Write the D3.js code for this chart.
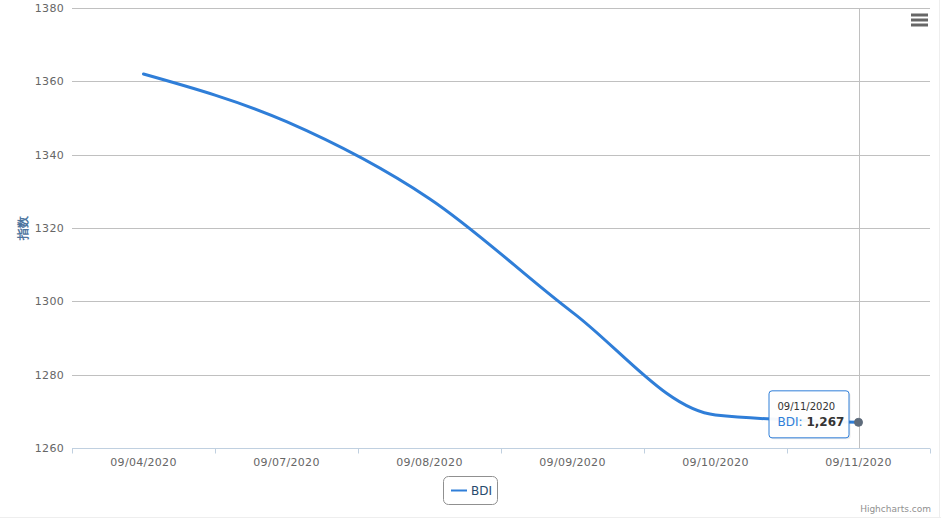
<!DOCTYPE html>
<html>
<head>
<meta charset="utf-8">
<script src="https://cdn.jsdelivr.net/npm/d3@7/dist/d3.min.js"></script>
<style>
html,body{margin:0;padding:0;background:#fff;}
svg{display:block;font-family:"DejaVu Sans",Verdana,Arial,sans-serif;}
</style>
</head>
<body>
<svg id="chart" width="941" height="520"></svg>
<script>
const categories = ["09/04/2020","09/07/2020","09/08/2020","09/09/2020","09/10/2020","09/11/2020"];
const bdiValues = [1362, 1349, 1328, 1297, 1269, 1267];
const yTicks = [1260, 1280, 1300, 1320, 1340, 1360, 1380];
const seriesName = "BDI";
const yTitle = "指数";

const W = 941, H = 520;
const m = {left: 72, right: 11, top: 8, bottom: 72};
const svg = d3.select("#chart");

const x = d3.scaleBand().domain(categories).range([m.left, W - m.right]);
const y = d3.scaleLinear().domain([1260, 1380]).range([H - m.bottom, m.top]);

// faint container edges (right & bottom)
svg.append("line").attr("x1", W-1.5).attr("x2", W-1.5).attr("y1", 0).attr("y2", H-2).attr("stroke","#eeeeee");
svg.append("line").attr("x1", 0).attr("x2", W).attr("y1", H-2.5).attr("y2", H-2.5).attr("stroke","#eeeeee");

// grid
svg.append("g").selectAll("line").data(yTicks.filter(d=>d!==1260)).join("line")
  .attr("x1", m.left).attr("x2", W - m.right)
  .attr("y1", d => Math.round(y(d))+0.5).attr("y2", d => Math.round(y(d))+0.5)
  .attr("stroke", "#c0c0c0").attr("stroke-width", 1);

// y axis labels
const yAxis = d3.axisLeft(y).tickValues(yTicks).tickSize(0).tickPadding(8).tickFormat(d3.format("d"));
const gy = svg.append("g").attr("transform", `translate(${m.left},0)`).call(yAxis);
gy.select(".domain").remove();
gy.selectAll("text").attr("font-size", 11).attr("fill", "#666666").attr("letter-spacing", 0.3)
  .attr("font-family", "DejaVu Sans, Verdana, sans-serif");

// crosshair
svg.append("line").attr("x1", Math.round(x(categories[5]) + x.bandwidth()/2)+0.5)
  .attr("x2", Math.round(x(categories[5]) + x.bandwidth()/2)+0.5)
  .attr("y1", m.top).attr("y2", H - m.bottom)
  .attr("stroke", "#c0c0c0").attr("stroke-width", 1);

// x axis
const xAxis = d3.axisBottom(x).tickSize(0).tickPadding(10);
const gx = svg.append("g").attr("transform", `translate(0,${H - m.bottom + 0.5})`).call(xAxis);
gx.select(".domain").attr("stroke", "#c0d0e0").attr("d", `M${m.left},0H${W - m.right}`);
gx.selectAll("text").attr("font-size", 11).attr("fill", "#666666").attr("letter-spacing", 0.3)
  .attr("font-family", "DejaVu Sans, Verdana, sans-serif");
const bounds = categories.map(c => x(c)).concat([x(categories[categories.length-1]) + x.bandwidth()]);
gx.selectAll("line.bt").data(bounds).join("line").attr("class","bt")
  .attr("x1", d => Math.round(d)+0.5).attr("x2", d => Math.round(d)+0.5)
  .attr("y1", 0).attr("y2", 5).attr("stroke", "#c0d0e0");

// y title
svg.append("text").attr("transform", `translate(27,${(m.top + H - m.bottom)/2}) rotate(-90)`)
  .attr("text-anchor", "middle").attr("font-size", 12).attr("font-weight", "bold")
  .attr("fill", "#4d759e").text(yTitle);

// line
const data = categories.map((c,i) => ({c, v: bdiValues[i]}));
const line = d3.line().x(d => x(d.c) + x.bandwidth()/2).y(d => y(d.v)).curve(d3.curveMonotoneX);
svg.append("path").datum(data).attr("d", line).attr("fill", "none")
  .attr("stroke", "#2f7ed8").attr("stroke-width", 3).attr("stroke-linejoin","round").attr("stroke-linecap","round");

// hover marker
const last = data[data.length-1];
const lx = x(last.c) + x.bandwidth()/2, ly = y(last.v);
svg.append("circle").attr("cx", lx).attr("cy", ly).attr("r", 4)
  .attr("fill", "#5e6b7b").attr("stroke", "#5e6b7b").attr("stroke-width", 1);

// tooltip
const tt = svg.append("g").attr("transform", `translate(${lx - 90},${ly - 32})`);
tt.append("rect").attr("x", 2).attr("y", 2).attr("width", 80).attr("height", 47).attr("rx", 3)
  .attr("fill", "rgba(0,0,0,0.08)");
tt.append("rect").attr("x", 0.5).attr("y", 0.5).attr("width", 80).attr("height", 47).attr("rx", 3)
  .attr("fill", "rgba(255,255,255,0.95)").attr("stroke", "#2f7ed8").attr("stroke-width", 1);
tt.append("text").attr("x", 9).attr("y", 20).attr("font-size", 10).attr("fill", "#333333").text(last.c);
const t2 = tt.append("text").attr("x", 9).attr("y", 36).attr("font-size", 12);
t2.append("tspan").attr("fill", "#2f7ed8").text(seriesName + ": ");
t2.append("tspan").attr("fill", "#333333").attr("font-weight", "bold").text(d3.format(",")(last.v));

// legend
const lg = svg.append("g").attr("transform", "translate(443,476)");
lg.append("rect").attr("x", 0.5).attr("y", 0.5).attr("width", 54).attr("height", 28).attr("rx", 5)
  .attr("fill", "#fff").attr("stroke", "#909090");
lg.append("line").attr("x1", 8).attr("x2", 24).attr("y1", 14.5).attr("y2", 14.5)
  .attr("stroke", "#2f7ed8").attr("stroke-width", 2);
lg.append("text").attr("x", 28).attr("y", 19).attr("font-size", 12).attr("fill", "#274b6d").text(seriesName);

// menu icon
const menu = svg.append("g");
[15, 20, 25].forEach(yy => menu.append("line").attr("x1", 911).attr("x2", 928).attr("y1", yy).attr("y2", yy)
  .attr("stroke", "#666666").attr("stroke-width", 3));

// credits
svg.append("text").attr("x", W - 10).attr("y", H - 8).attr("text-anchor", "end")
  .attr("font-size", 9).attr("fill", "#909090").text("Highcharts.com");
</script>
</body>
</html>
